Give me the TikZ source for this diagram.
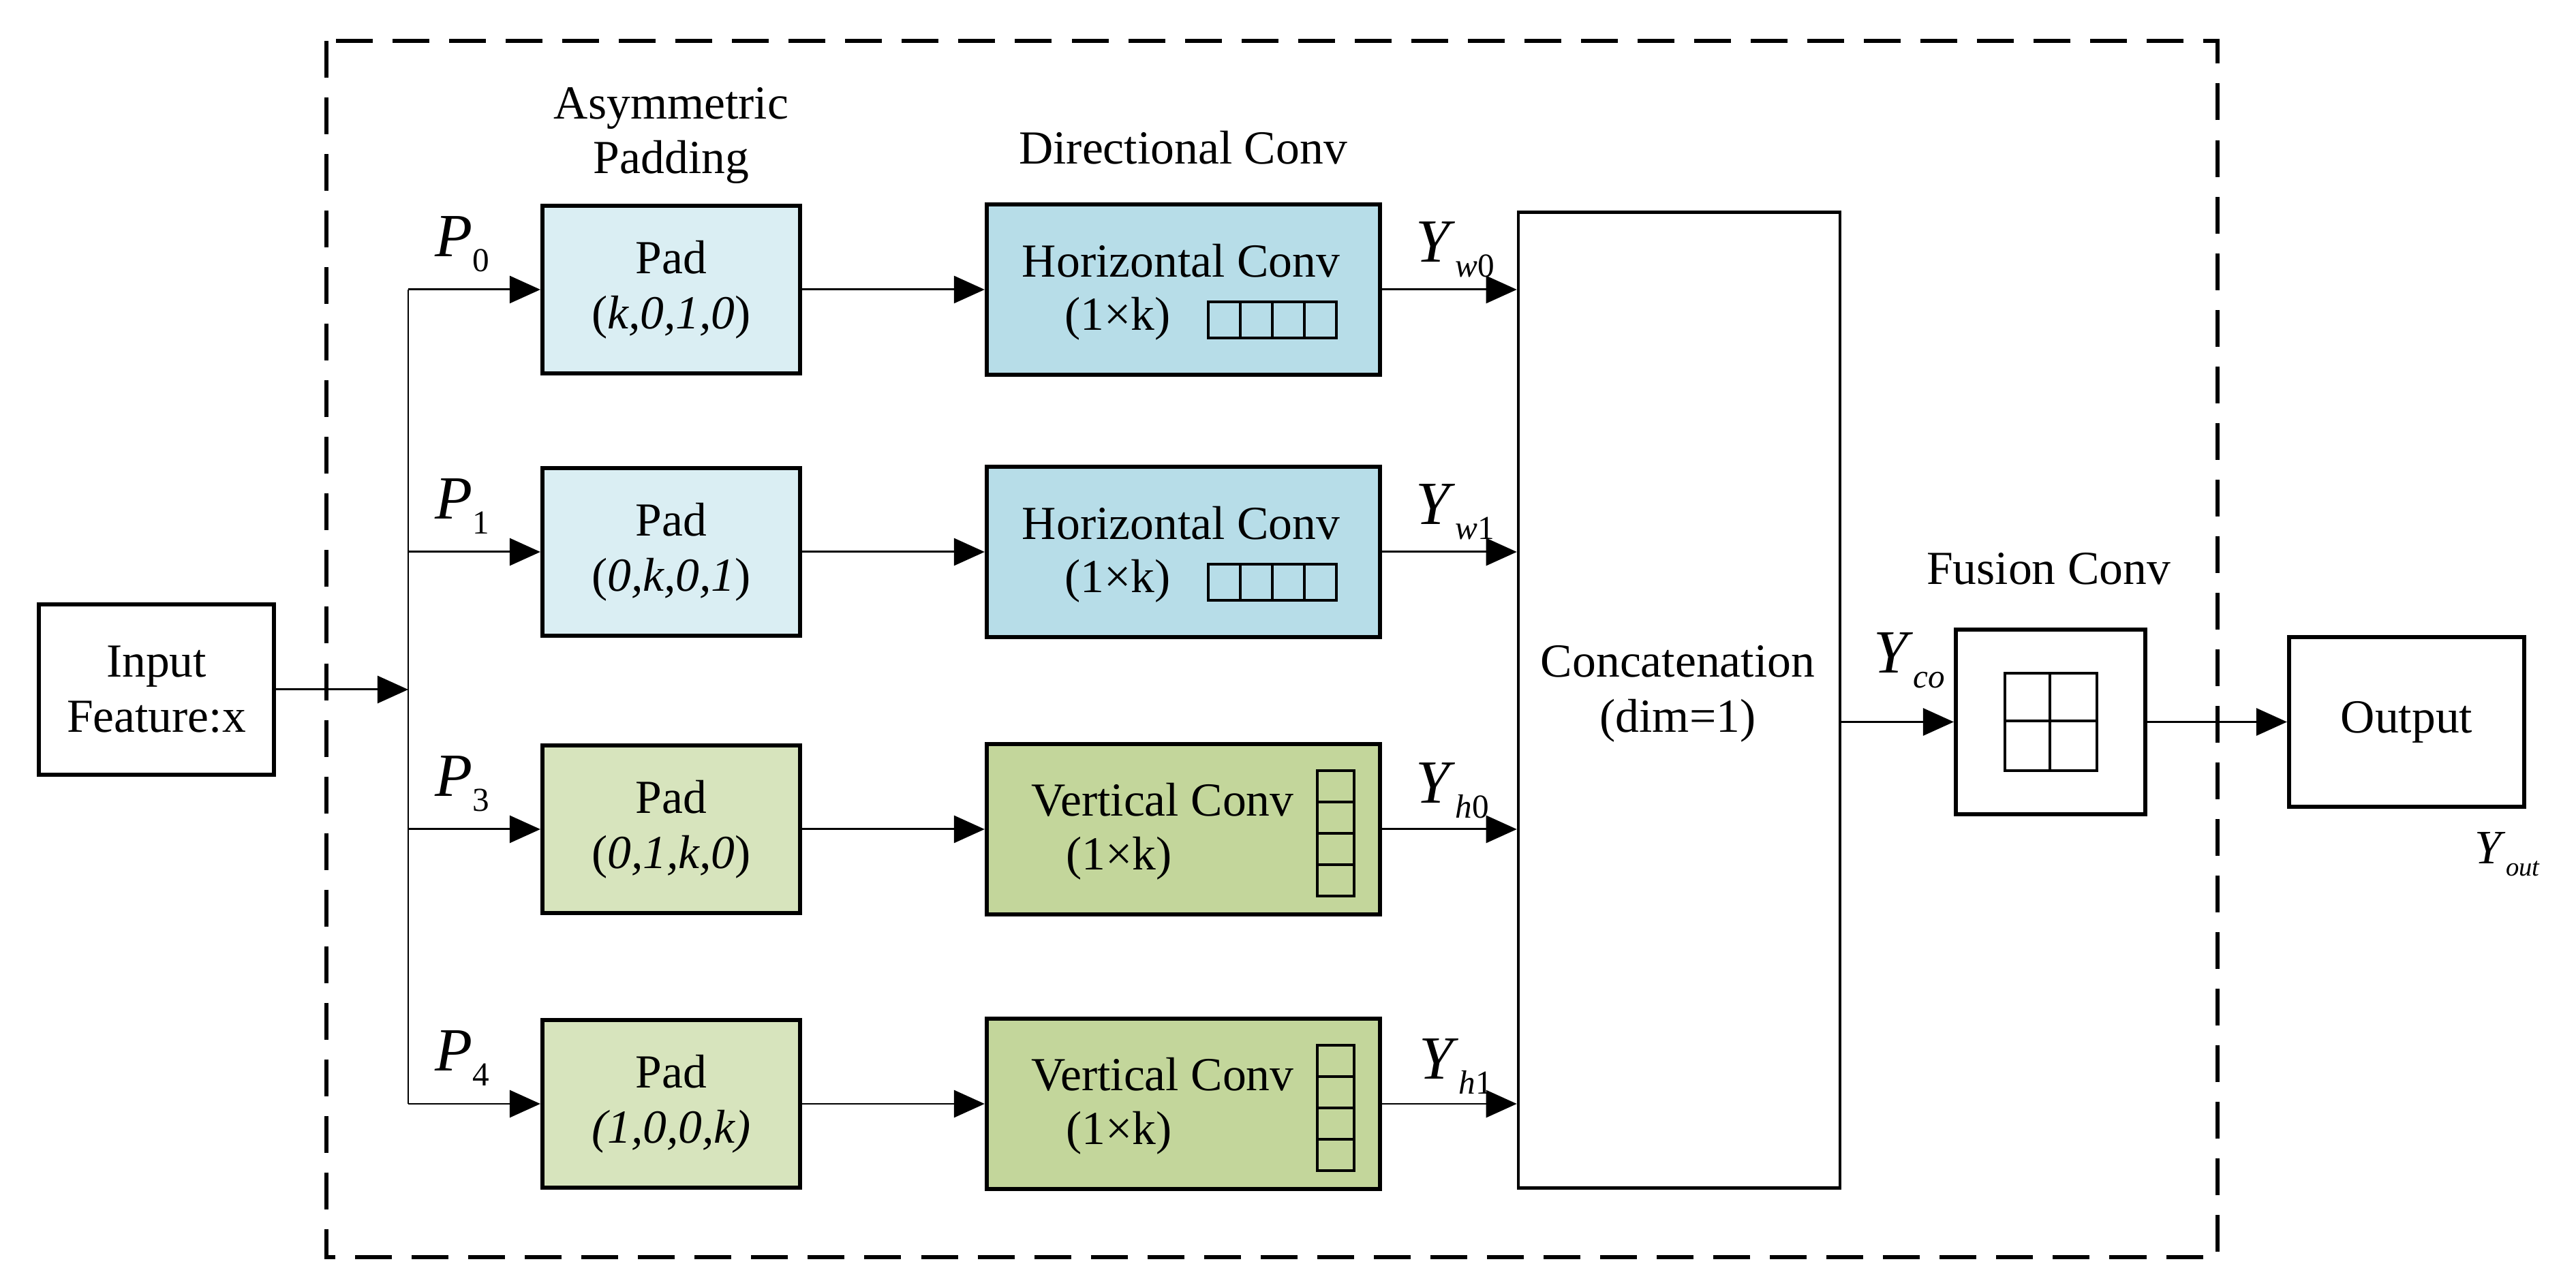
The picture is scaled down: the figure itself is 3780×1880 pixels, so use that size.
\documentclass[tikz,border=0pt]{standalone}
\usepackage{fontspec}
\setmainfont{Liberation Serif}
\usetikzlibrary{arrows.meta}
\definecolor{padblue}{HTML}{DAEEF3}
\definecolor{convblue}{HTML}{B7DDE8}
\definecolor{padgreen}{HTML}{D7E4BD}
\definecolor{convgreen}{HTML}{C3D69B}
\newcommand{\mysym}[2]{\textit{#1}\raisebox{-6pt}{\fontsize{14}{14}\selectfont #2}}
\newcommand{\mysmallsym}[2]{\textit{#1}\raisebox{-5pt}{\fontsize{11}{11}\selectfont #2}}
\begin{document}
\begin{tikzpicture}[x=0.01cm,y=-0.01cm,
  font=\fontsize{19.8}{23}\selectfont,
  blk/.style={draw, line width=1.7pt, inner sep=0pt, align=center},
  padbox/.style={blk, minimum width=3.78cm, minimum height=2.46cm},
  convbox/.style={blk, minimum width=5.77cm, minimum height=2.50cm},
  conn/.style={line width=0.85pt, -{Triangle[length=0.45cm,width=0.4cm]}},
  plain/.style={line width=0.85pt},
  cell/.style={line width=1.3pt},
  biglbl/.style={anchor=base west, inner sep=0pt, font=\fontsize{25.6}{30}\selectfont},
  txt/.style={inner sep=0pt, align=center}
]
\useasboundingbox (0,0) rectangle (3780,1880);

% dashed frame
\draw[line width=1.7pt, dash pattern=on 0.54cm off 0.29cm] (479,60) rectangle (3254,1845);

% headers
\node[txt] (hpad) at (985,199) {Asymmetric\\Padding};
\node[txt] (hconv) at (1736,217) {Directional Conv};
\node[txt] (hfus) at (3006,835) {Fusion Conv};

% input
\node[blk, minimum width=3.45cm, minimum height=2.49cm] (inp) at (229.5,1012) {Input\\Feature:x};

% pad boxes
\node[padbox, fill=padblue] (pad0) at (985,425) {Pad\\(\textit{k,0,1,0})};
\node[padbox, fill=padblue] (pad1) at (985,810) {Pad\\(\textit{0,k,0,1})};
\node[padbox, fill=padgreen] (pad3) at (985,1217) {Pad\\(\textit{0,1,k,0})};
\node[padbox, fill=padgreen] (pad4) at (985,1620) {Pad\\\textit{(1,0,0,k)}};

% conv boxes
\node[convbox, fill=convblue] (conv0) at (1736.5,425) {};
\node[convbox, fill=convblue] (conv1) at (1736.5,810) {};
\node[convbox, fill=convgreen] (conv3) at (1736.5,1217) {};
\node[convbox, fill=convgreen] (conv4) at (1736.5,1620) {};

% horizontal conv texts + cells
\foreach \r/\n in {425/0, 810/1}{
  \node[txt] (hc\n) at (1733,\r-42) {Horizontal Conv};
  \node[txt] (hk\n) at (1640,\r+43) {(1×k)};
  \draw[cell] (1773,\r+18) rectangle (1961,\r+71);
  \draw[cell] (1820,\r+18) -- (1820,\r+71);
  \draw[cell] (1867,\r+18) -- (1867,\r+71);
  \draw[cell] (1914,\r+18) -- (1914,\r+71);
}
% vertical conv texts + cells
\foreach \r/\n in {1217/3, 1620/4}{
  \node[txt] (vc\n) at (1706,\r-43) {Vertical Conv};
  \node[txt] (vk\n) at (1642,\r+43) {(1×k)};
  \draw[cell] (1933,\r-86) rectangle (1987,\r+98);
  \draw[cell] (1933,\r-40) -- (1987,\r-40);
  \draw[cell] (1933,\r+6) -- (1987,\r+6);
  \draw[cell] (1933,\r+52) -- (1987,\r+52);
}

% concatenation
\node[draw, line width=1.2pt, minimum width=4.72cm, minimum height=14.31cm, inner sep=0pt] (cat) at (2464,1027.5) {};
\node[txt] (cattxt) at (2462,1018) {Concatenation\\(dim=1)};

% fusion
\node[blk, minimum width=2.78cm, minimum height=2.71cm] (fus) at (3009,1059.5) {};
\draw[cell] (2942,988) rectangle (3077,1131);
\draw[cell] (3008,988) -- (3008,1131);
\draw[cell] (2942,1058) -- (3077,1058);

% output
\node[blk, minimum width=3.45cm, minimum height=2.49cm] (out) at (3531.5,1059.5) {Output};

% connectors
\coordinate (jn) at (599,1012);
\draw[conn] (inp.east) -- (jn);
\draw[plain] (jn |- pad0.west) -- (jn |- pad4.west);
\foreach \n in {0,1,3,4}{
  \draw[conn] (jn |- pad\n.west) -- (pad\n.west);
  \draw[conn] (pad\n.east) -- (conv\n.west);
  \draw[conn] (conv\n.east) -- (conv\n.east -| cat.west);
}
\draw[conn] (cat.east |- fus.west) -- (fus.west);
\draw[conn] (fus.east) -- (out.west);

% labels
\node[biglbl] (lp0) at (638,377) {\mysym{P}{0}};
\node[biglbl] (lp1) at (638,762) {\mysym{P}{1}};
\node[biglbl] (lp3) at (638,1169) {\mysym{P}{3}};
\node[biglbl] (lp4) at (638,1572) {\mysym{P}{4}};
\node[biglbl] (ly0) at (2077,385) {\mysym{Y}{\textit{w}0}};
\node[biglbl] (ly1) at (2077,770) {\mysym{Y}{\textit{w}1}};
\node[biglbl] (ly3) at (2077,1179) {\mysym{Y}{\textit{h}0}};
\node[biglbl] (ly4) at (2082,1584) {\mysym{Y}{\textit{h}1}};
\node[biglbl] (lyco) at (2749,988) {\mysym{Y}{\textit{co}}};
\node[anchor=base west, inner sep=0pt, font=\fontsize{20}{24}\selectfont] (lyout) at (3631,1268) {\mysmallsym{Y}{\textit{out}}};
\end{tikzpicture}
\end{document}
